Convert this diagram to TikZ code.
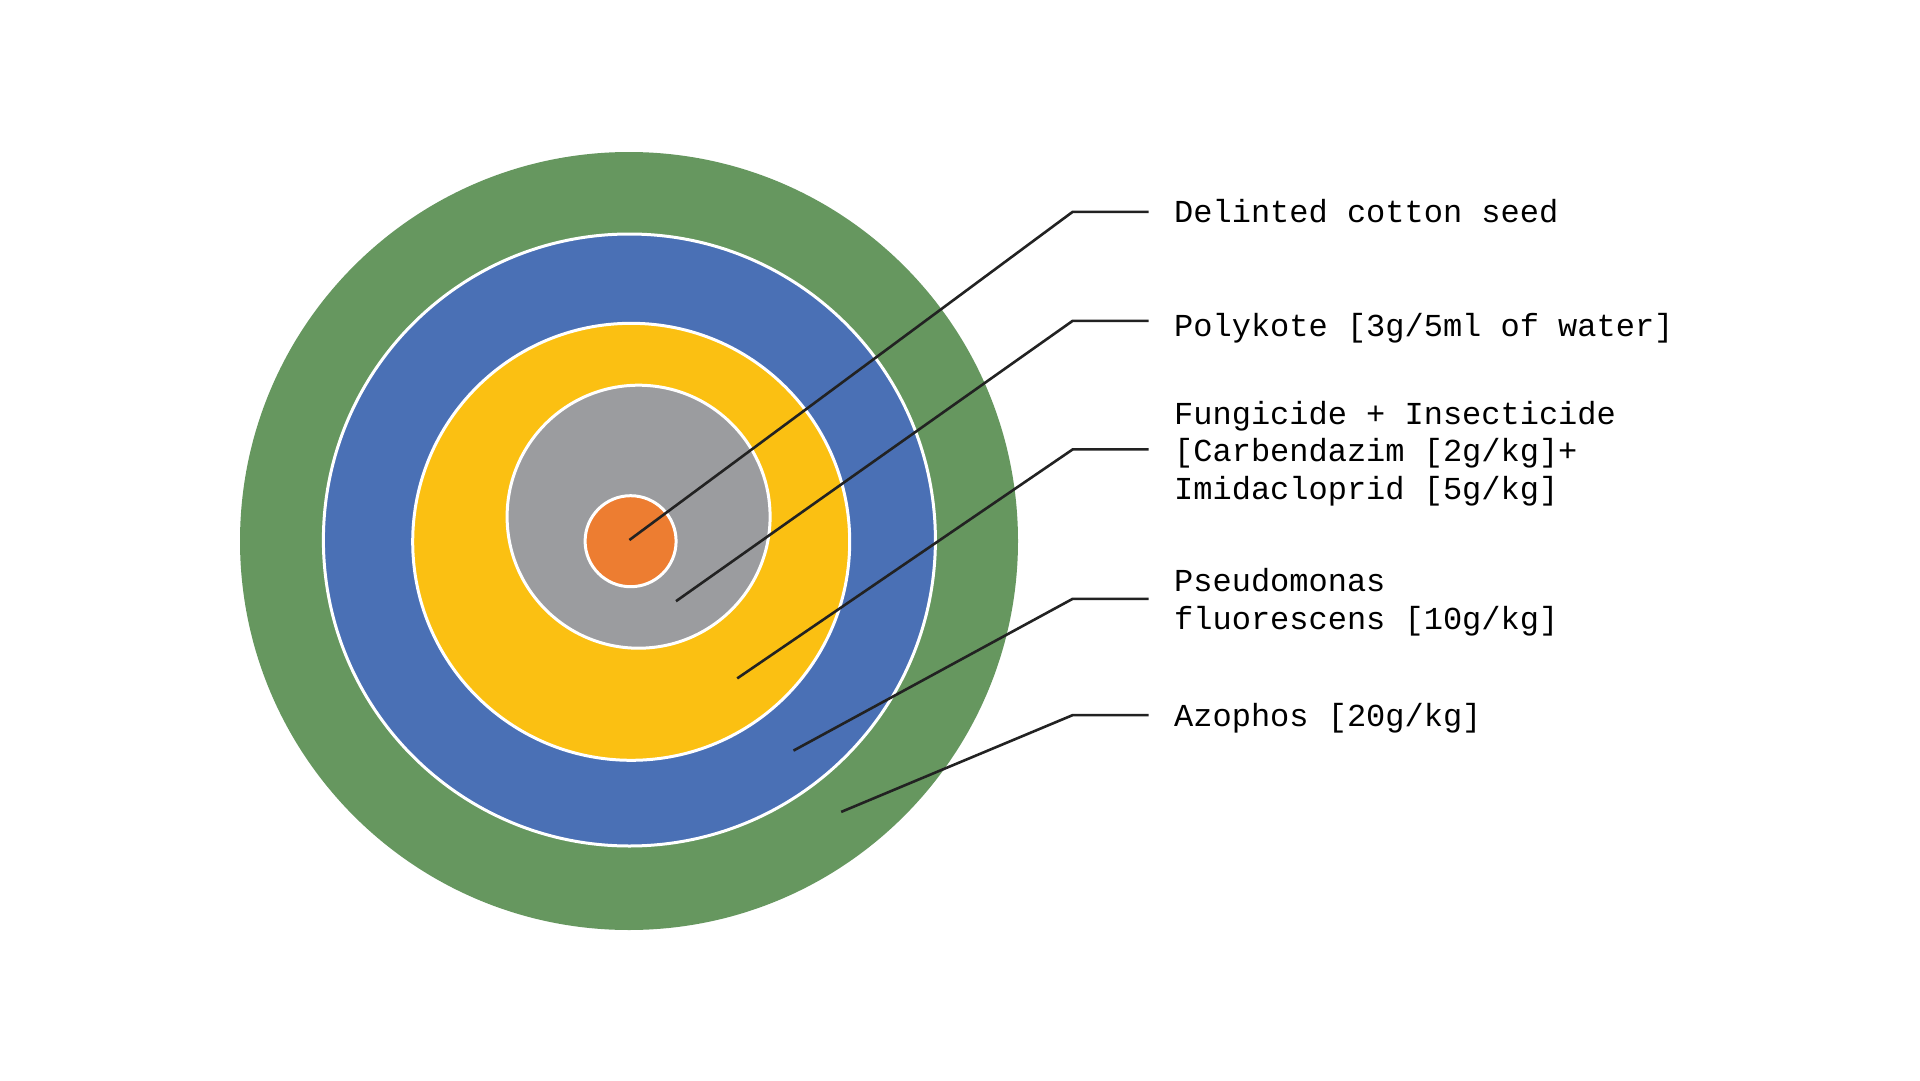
\documentclass[tikz,border=0pt]{standalone}
\usepackage{fontspec}
\setmonofont{Liberation Mono}
\usepackage{tikz}
\usetikzlibrary{positioning}

\definecolor{azogreen}{HTML}{66975F}
\definecolor{pseudoblue}{HTML}{4A70B5}
\definecolor{fungiyellow}{HTML}{FBC012}
\definecolor{polygray}{HTML}{9B9C9F}
\definecolor{seedorange}{HTML}{ED7D31}
\definecolor{leadline}{HTML}{222222}

\tikzset{
  layer/.style={circle, inner sep=0pt, draw=white, line width=3pt},
  tag/.style={anchor=base west, inner sep=0pt, align=left,
    font=\ttfamily\fontsize{32}{37.5}\selectfont},
  lead/.style={draw=leadline, line width=2.6pt}
}

\begin{document}
\begin{tikzpicture}[x=1pt, y=-1pt]
  \useasboundingbox (0,0) rectangle (1920,1081);

  % seed layers, outside in
  \node[layer, draw=none, fill=azogreen, minimum size=778pt] (azophos) at (629,541) {};
  \node[layer, fill=pseudoblue, minimum size=612pt] (pseudo) at (629.4,540) {};
  \node[layer, fill=fungiyellow, minimum size=437pt] (fungi) at (631.2,541.8) {};
  \node[layer, fill=polygray, minimum size=263pt] (poly) at (638.6,516.7) {};
  \node[layer, fill=seedorange, minimum size=91pt] (seed) at (630.6,541.2) {};

  % labels (base = last line)
  \node[tag] (seedtxt) at (1174,222) {Delinted cotton seed};
  \node[tag] (polytxt) at (1174,336.7) {Polykote [3g/5ml of water]};
  \node[tag] (fungitxt) at (1174,499.3) {Fungicide + Insecticide\\{}[Carbendazim [2g/kg]+\\Imidacloprid [5g/kg]};
  \node[tag] (pseudotxt) at (1174,629.3) {Pseudomonas\\fluorescens [10g/kg]};
  \node[tag] (azotxt) at (1174,726.7) {Azophos [20g/kg]};

  % leader lines
  \coordinate (seedpt) at (629.4,540);
  \coordinate (polypt) at (676,601.2);
  \coordinate (fungipt) at (737.2,678.4);
  \coordinate (pseudopt) at (793.5,750.6);
  \coordinate (azopt) at (841.2,811.9);

  \coordinate (seedbend) at (1072.7,211.8);
  \coordinate (polybend) at (1072.7,320.8);
  \coordinate (fungibend) at (1072.7,449.4);
  \coordinate (pseudobend) at (1072.7,598.8);
  \coordinate (azobend) at (1072.7,715.1);

  \draw[lead] (seedpt) -- (seedbend) -- ([xshift=-25.4pt]seedbend -| seedtxt.west);
  \draw[lead] (polypt) -- (polybend) -- ([xshift=-25.4pt]polybend -| polytxt.west);
  \draw[lead] (fungipt) -- (fungibend) -- ([xshift=-25.4pt]fungibend -| fungitxt.west);
  \draw[lead] (pseudopt) -- (pseudobend) -- ([xshift=-25.4pt]pseudobend -| pseudotxt.west);
  \draw[lead] (azopt) -- (azobend) -- ([xshift=-25.4pt]azobend -| azotxt.west);
\end{tikzpicture}
\end{document}
